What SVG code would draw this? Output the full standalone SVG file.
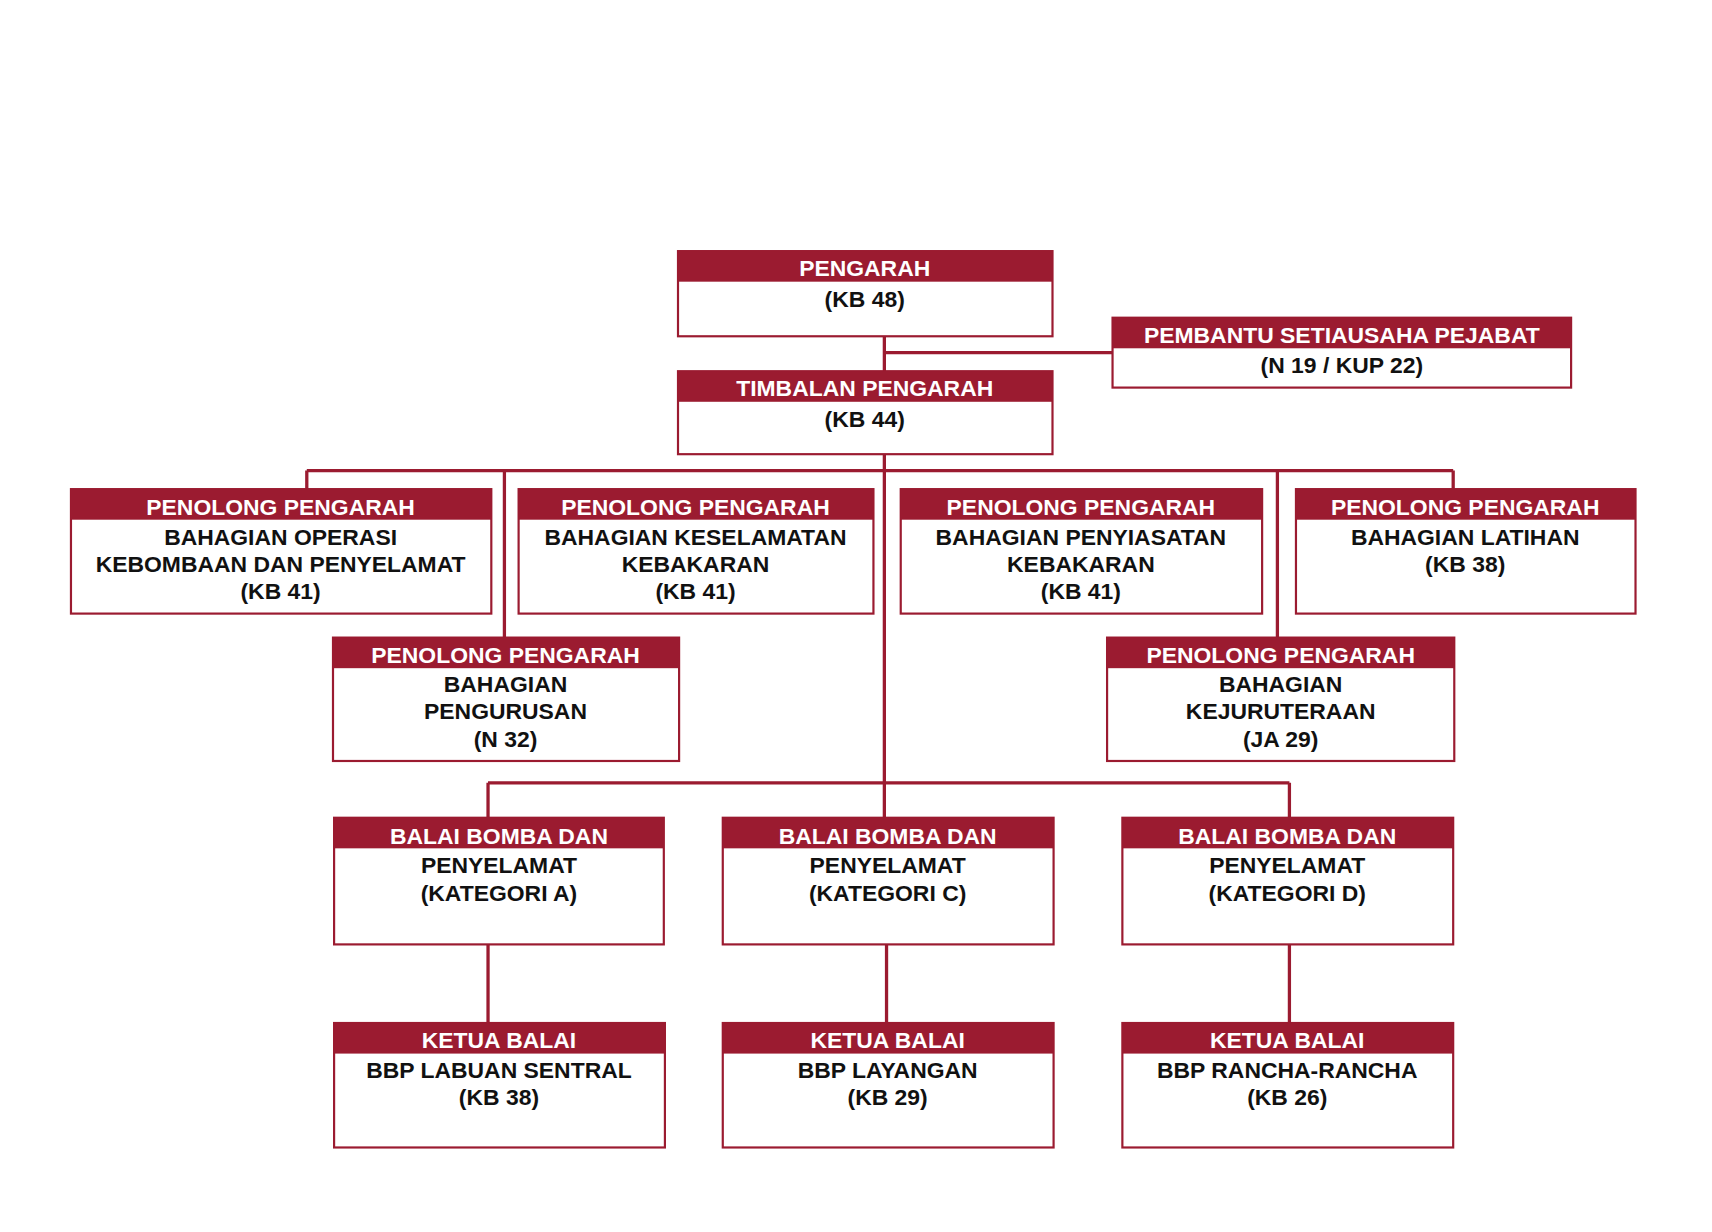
<svg xmlns="http://www.w3.org/2000/svg" width="1712" height="1232" viewBox="0 0 1712 1232">
<style>
.b{fill:#fff;stroke:#9b1b30;stroke-width:2}
.h{fill:#9b1b30}
.ht{fill:#fff;font:bold 21px "Liberation Sans",Arial,sans-serif;text-anchor:middle}
.t{fill:#111;font:bold 21px "Liberation Sans",Arial,sans-serif;text-anchor:middle}
.c{stroke:#9b1b30;stroke-width:3;fill:none}
</style>
<rect width="1712" height="1232" fill="#fff"/>
<g transform="scale(1.0918)">
<g id="connectors">
<path class="c" d="M810 308V749M810 323H1019M281 431H1331M281 431V448M462 431V584M1170 431V584M1331 431V448M447 717H1181M447 717V749M1181 717V749M447 865V937M812 865V937M1181 865V937"/>
</g>
<g id="n1"><rect class="b" x="621" y="230" width="343" height="78"/><rect class="h" x="621" y="230" width="343" height="28"/><text class="ht" x="792" y="253">PENGARAH</text><text class="t" x="792" y="281">(KB 48)</text></g>
<g id="n2"><rect class="b" x="1019" y="291" width="420" height="64"/><rect class="h" x="1019" y="291" width="420" height="28"/><text class="ht" x="1229" y="314">PEMBANTU SETIAUSAHA PEJABAT</text><text class="t" x="1229" y="342">(N 19 / KUP 22)</text></g>
<g id="n3"><rect class="b" x="621" y="340" width="343" height="76"/><rect class="h" x="621" y="340" width="343" height="28"/><text class="ht" x="792" y="363">TIMBALAN PENGARAH</text><text class="t" x="792" y="391">(KB 44)</text></g>
<g id="n4"><rect class="b" x="65" y="448" width="385" height="114"/><rect class="h" x="65" y="448" width="385" height="28"/><text class="ht" x="257" y="472">PENOLONG PENGARAH</text><text class="t" x="257" y="499">BAHAGIAN OPERASI</text><text class="t" x="257" y="524">KEBOMBAAN DAN PENYELAMAT</text><text class="t" x="257" y="549">(KB 41)</text></g>
<g id="n5"><rect class="b" x="475" y="448" width="325" height="114"/><rect class="h" x="475" y="448" width="325" height="28"/><text class="ht" x="637" y="472">PENOLONG PENGARAH</text><text class="t" x="637" y="499">BAHAGIAN KESELAMATAN</text><text class="t" x="637" y="524">KEBAKARAN</text><text class="t" x="637" y="549">(KB 41)</text></g>
<g id="n6"><rect class="b" x="825" y="448" width="331" height="114"/><rect class="h" x="825" y="448" width="331" height="28"/><text class="ht" x="990" y="472">PENOLONG PENGARAH</text><text class="t" x="990" y="499">BAHAGIAN PENYIASATAN</text><text class="t" x="990" y="524">KEBAKARAN</text><text class="t" x="990" y="549">(KB 41)</text></g>
<g id="n7"><rect class="b" x="1187" y="448" width="311" height="114"/><rect class="h" x="1187" y="448" width="311" height="28"/><text class="ht" x="1342" y="472">PENOLONG PENGARAH</text><text class="t" x="1342" y="499">BAHAGIAN LATIHAN</text><text class="t" x="1342" y="524">(KB 38)</text></g>
<g id="n8"><rect class="b" x="305" y="584" width="317" height="113"/><rect class="h" x="305" y="584" width="317" height="28"/><text class="ht" x="463" y="607">PENOLONG PENGARAH</text><text class="t" x="463" y="634">BAHAGIAN</text><text class="t" x="463" y="659">PENGURUSAN</text><text class="t" x="463" y="684">(N 32)</text></g>
<g id="n9"><rect class="b" x="1014" y="584" width="318" height="113"/><rect class="h" x="1014" y="584" width="318" height="28"/><text class="ht" x="1173" y="607">PENOLONG PENGARAH</text><text class="t" x="1173" y="634">BAHAGIAN</text><text class="t" x="1173" y="659">KEJURUTERAAN</text><text class="t" x="1173" y="684">(JA 29)</text></g>
<g id="n10"><rect class="b" x="306" y="749" width="302" height="116"/><rect class="h" x="306" y="749" width="302" height="28"/><text class="ht" x="457" y="773">BALAI BOMBA DAN</text><text class="t" x="457" y="800">PENYELAMAT</text><text class="t" x="457" y="825">(KATEGORI A)</text></g>
<g id="n11"><rect class="b" x="662" y="749" width="303" height="116"/><rect class="h" x="662" y="749" width="303" height="28"/><text class="ht" x="813" y="773">BALAI BOMBA DAN</text><text class="t" x="813" y="800">PENYELAMAT</text><text class="t" x="813" y="825">(KATEGORI C)</text></g>
<g id="n12"><rect class="b" x="1028" y="749" width="303" height="116"/><rect class="h" x="1028" y="749" width="303" height="28"/><text class="ht" x="1179" y="773">BALAI BOMBA DAN</text><text class="t" x="1179" y="800">PENYELAMAT</text><text class="t" x="1179" y="825">(KATEGORI D)</text></g>
<g id="n13"><rect class="b" x="306" y="937" width="303" height="114"/><rect class="h" x="306" y="937" width="303" height="28"/><text class="ht" x="457" y="960">KETUA BALAI</text><text class="t" x="457" y="987">BBP LABUAN SENTRAL</text><text class="t" x="457" y="1012">(KB 38)</text></g>
<g id="n14"><rect class="b" x="662" y="937" width="303" height="114"/><rect class="h" x="662" y="937" width="303" height="28"/><text class="ht" x="813" y="960">KETUA BALAI</text><text class="t" x="813" y="987">BBP LAYANGAN</text><text class="t" x="813" y="1012">(KB 29)</text></g>
<g id="n15"><rect class="b" x="1028" y="937" width="303" height="114"/><rect class="h" x="1028" y="937" width="303" height="28"/><text class="ht" x="1179" y="960">KETUA BALAI</text><text class="t" x="1179" y="987">BBP RANCHA-RANCHA</text><text class="t" x="1179" y="1012">(KB 26)</text></g>
</g>
</svg>
